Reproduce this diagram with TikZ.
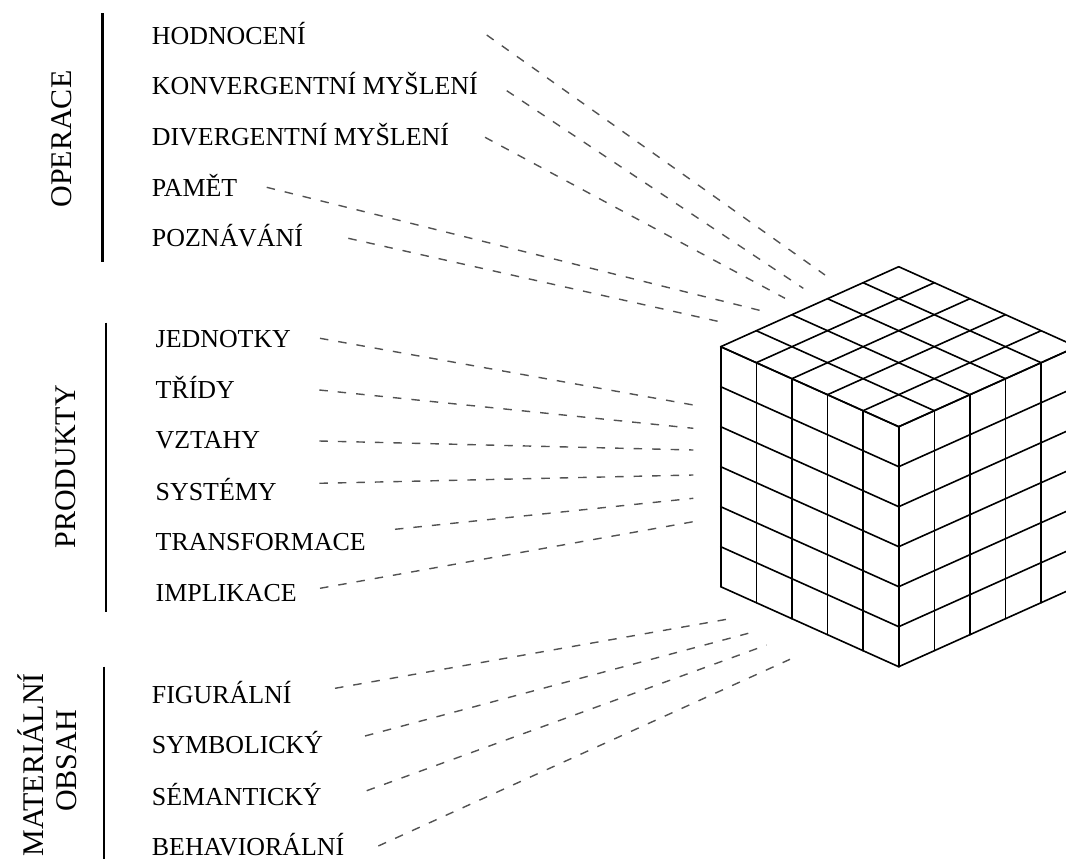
\documentclass[tikz,border=0pt]{standalone}
\usepackage{fontspec}
\setmainfont{Liberation Serif}
\begin{document}
\begin{tikzpicture}[x=1pt,y=-1pt,
  item/.style={anchor=base west, inner sep=0pt, font=\fontsize{25.9}{30}\selectfont},
  group/.style={rotate=90, anchor=base, inner sep=0pt, font=\fontsize{30}{36}\selectfont},
  bar/.style={line width=2.6pt},
  link/.style={draw=black!68, line width=1.4pt, dash pattern=on 8.5pt off 10pt},
  cubeline/.style={line width=1.6pt, line cap=round, line join=round}]
\useasboundingbox (0,0) rectangle (1066,859);

% ---- group labels and bars
\node[group] (gop) at (71.7,139) {OPERACE};
\node[group] (gpr) at (75,466.7) {PRODUKTY};
\node[group] (gma1) at (43,765) {MATERIÁLNÍ};
\node[group] (gma2) at (76.7,761) {OBSAH};
\coordinate (b1t) at (102.3,13.3); \coordinate (b1b) at (102.3,261.7);
\coordinate (b2t) at (106,322.7);  \coordinate (b2b) at (106,611.7);
\coordinate (b3t) at (104,666.7);  \coordinate (b3b) at (104,859);
\draw[bar] (b1t) -- (b1b);
\draw[bar] (b2t) -- (b2b);
\draw[bar] (b3t) -- (b3b);

% ---- items
\node[item] (o1) at (151.7,44.3) {HODNOCENÍ};
\node[item] (o2) at (151.7,94.3) {KONVERGENTNÍ MYŠLENÍ};
\node[item] (o3) at (151.7,145) {DIVERGENTNÍ MYŠLENÍ};
\node[item] (o4) at (151.7,196) {PAMĚT};
\node[item] (o5) at (151.7,246.7) {POZNÁVÁNÍ};

\node[item] (p1) at (155.5,347.7) {JEDNOTKY};
\node[item] (p2) at (155.5,398.3) {TŘÍDY};
\node[item] (p3) at (155.5,448.3) {VZTAHY};
\node[item] (p4) at (155.5,500) {SYSTÉMY};
\node[item] (p5) at (155.5,550) {TRANSFORMACE};
\node[item] (p6) at (155.5,601.7) {IMPLIKACE};

\node[item] (m1) at (151.7,703.3) {FIGURÁLNÍ};
\node[item] (m2) at (151.7,753.3) {SYMBOLICKÝ};
\node[item] (m3) at (151.7,805) {SÉMANTICKÝ};
\node[item] (m4) at (151.7,855) {BEHAVIORÁLNÍ};

% ---- dashed connectors
\coordinate (so1) at (486.7,35);   \coordinate (eo1) at (825,275);
\coordinate (so2) at (506.7,90.7); \coordinate (eo2) at (803.3,288.3);
\coordinate (so3) at (485,137.3);  \coordinate (eo3) at (785,298.3);
\coordinate (so4) at (266.7,187.3);\coordinate (eo4) at (765,311.7);
\coordinate (so5) at (348.3,238.3);\coordinate (eo5) at (726.7,323.3);
\foreach \k in {1,...,5} {\draw[link] (so\k) -- (eo\k);}

\coordinate (sp1) at (320,338.3);   \coordinate (ep1) at (693.3,405);
\coordinate (sp2) at (319.3,390);   \coordinate (ep2) at (693.3,428.3);
\coordinate (sp3) at (319.3,441);   \coordinate (ep3) at (693.3,450);
\coordinate (sp4) at (319.3,483.3); \coordinate (ep4) at (693.3,475);
\coordinate (sp5) at (395,529.3);   \coordinate (ep5) at (693.3,498.3);
\coordinate (sp6) at (320,588.3);   \coordinate (ep6) at (693.3,521.7);
\foreach \k in {1,...,6} {\draw[link] (sp\k) -- (ep\k);}

\coordinate (sm1) at (335,688.3);   \coordinate (em1) at (726.7,619.3);
\coordinate (sm2) at (365,736);     \coordinate (em2) at (748.3,633.3);
\coordinate (sm3) at (366.7,790.7); \coordinate (em3) at (766.7,645);
\coordinate (sm4) at (378.3,846);   \coordinate (em4) at (790,659.3);
\foreach \k in {1,...,4} {\draw[link] (sm\k) -- (em\k);}

% ---- cube 5 x 5 x 6
\begin{scope}
\clip (0,0) rectangle (1066,859);
\foreach \i in {0,...,5} {
  \draw[cubeline] ({898.7-35.6*\i},{426.7-16*\i}) -- ++(178,-80);
  \draw[cubeline] ({898.7+35.6*\i},{426.7-16*\i}) -- ++(-178,-80);
  \draw[cubeline] ({898.7-35.6*\i},{426.7-16*\i}) -- ++(0,240);
  \draw[cubeline] ({898.7+35.6*\i},{426.7-16*\i}) -- ++(0,240);
}
\foreach \k in {0,...,6} {
  \draw[cubeline] (898.7,{426.7+40*\k}) -- ++(-178,-80);
  \draw[cubeline] (898.7,{426.7+40*\k}) -- ++(178,-80);
}
\end{scope}
\end{tikzpicture}
\end{document}
